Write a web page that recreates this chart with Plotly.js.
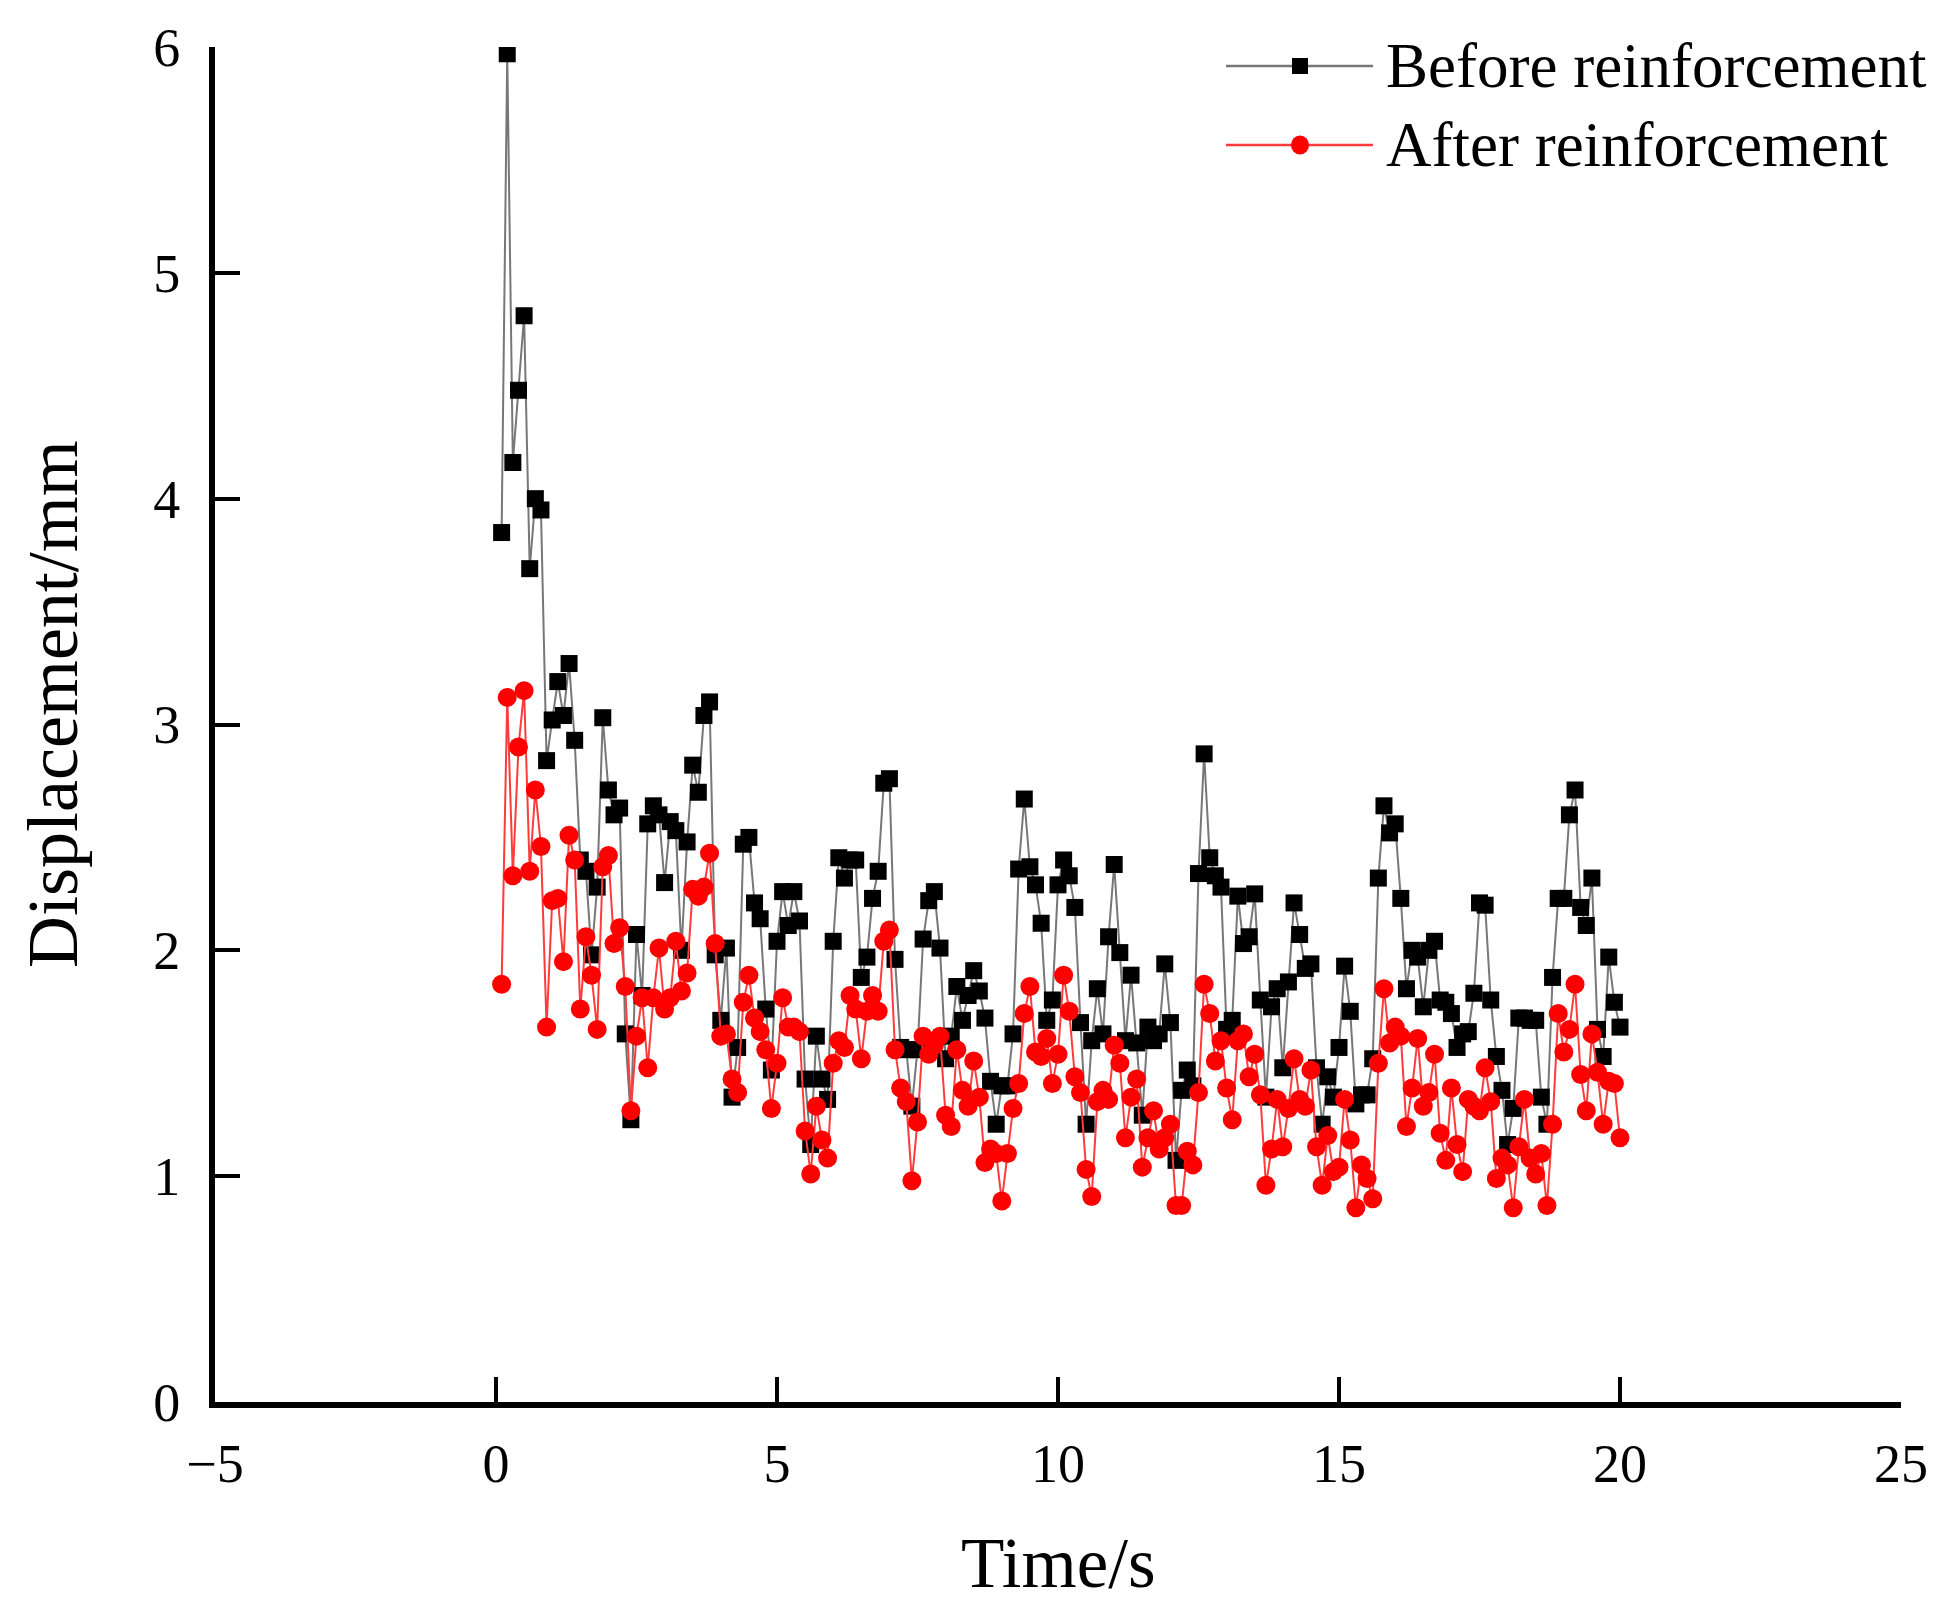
<!DOCTYPE html>
<html>
<head>
<meta charset="utf-8">
<script src="https://cdn.plot.ly/plotly-3.0.1.min.js"></script>
<style>
  html, body { margin: 0; padding: 0; background: #fff; }
  #chart { width: 1948px; height: 1612px; }
</style>
</head>
<body>
<div id="chart"></div>
<script>
// sampling times (s)
const time = [
  0.1, 0.2, 0.3, 0.4, 0.5, 0.6, 0.7, 0.8, 0.9, 1.0, 1.1, 1.2, 1.3, 1.4, 1.5, 1.6, 1.7, 1.8, 1.9, 2.0,
  2.1, 2.2, 2.3, 2.4, 2.5, 2.6, 2.7, 2.8, 2.9, 3.0, 3.1, 3.2, 3.3, 3.4, 3.5, 3.6, 3.7, 3.8, 3.9, 4.0,
  4.1, 4.2, 4.3, 4.4, 4.5, 4.6, 4.7, 4.8, 4.9, 5.0, 5.1, 5.2, 5.3, 5.4, 5.5, 5.6, 5.7, 5.8, 5.9, 6.0,
  6.1, 6.2, 6.3, 6.4, 6.5, 6.6, 6.7, 6.8, 6.9, 7.0, 7.1, 7.2, 7.3, 7.4, 7.5, 7.6, 7.7, 7.8, 7.9, 8.0,
  8.1, 8.2, 8.3, 8.4, 8.5, 8.6, 8.7, 8.8, 8.9, 9.0, 9.1, 9.2, 9.3, 9.4, 9.5, 9.6, 9.7, 9.8, 9.9, 10.0,
  10.1, 10.2, 10.3, 10.4, 10.5, 10.6, 10.7, 10.8, 10.9, 11.0, 11.1, 11.2, 11.3, 11.4, 11.5, 11.6, 11.7, 11.8, 11.9, 12.0,
  12.1, 12.2, 12.3, 12.4, 12.5, 12.6, 12.7, 12.8, 12.9, 13.0, 13.1, 13.2, 13.3, 13.4, 13.5, 13.6, 13.7, 13.8, 13.9, 14.0,
  14.1, 14.2, 14.3, 14.4, 14.5, 14.6, 14.7, 14.8, 14.9, 15.0, 15.1, 15.2, 15.3, 15.4, 15.5, 15.6, 15.7, 15.8, 15.9, 16.0,
  16.1, 16.2, 16.3, 16.4, 16.5, 16.6, 16.7, 16.8, 16.9, 17.0, 17.1, 17.2, 17.3, 17.4, 17.5, 17.6, 17.7, 17.8, 17.9, 18.0,
  18.1, 18.2, 18.3, 18.4, 18.5, 18.6, 18.7, 18.8, 18.9, 19.0, 19.1, 19.2, 19.3, 19.4, 19.5, 19.6, 19.7, 19.8, 19.9, 20.0
];

// displacement before reinforcement (mm)
const before = [
  3.85, 5.97, 4.16, 4.48, 4.81, 3.69, 4.00, 3.95, 2.84, 3.02, 3.19, 3.04, 3.27, 2.93, 2.40, 2.35, 1.98, 2.28, 3.03, 2.71,
  2.60, 2.63, 1.63, 1.25, 2.07, 1.80, 2.56, 2.64, 2.60, 2.30, 2.57, 2.53, 2.00, 2.48, 2.82, 2.70, 3.04, 3.10, 1.98, 1.69,
  2.01, 1.35, 1.57, 2.47, 2.50, 2.21, 2.14, 1.74, 1.47, 2.04, 2.26, 2.11, 2.26, 2.13, 1.43, 1.14, 1.62, 1.43, 1.34, 2.04,
  2.41, 2.32, 2.40, 2.40, 1.88, 1.97, 2.23, 2.35, 2.74, 2.76, 1.96, 1.57, 1.56, 1.31, 1.56, 2.05, 2.22, 2.26, 2.01, 1.52,
  1.62, 1.84, 1.69, 1.80, 1.91, 1.82, 1.70, 1.42, 1.23, 1.40, 1.40, 1.63, 2.36, 2.67, 2.37, 2.29, 2.12, 1.69, 1.78, 2.29,
  2.40, 2.33, 2.19, 1.68, 1.23, 1.60, 1.83, 1.63, 2.06, 2.38, 1.99, 1.60, 1.89, 1.59, 1.27, 1.66, 1.60, 1.63, 1.94, 1.68,
  1.07, 1.38, 1.47, 1.40, 2.34, 2.87, 2.41, 2.33, 2.28, 1.65, 1.69, 2.24, 2.03, 2.06, 2.25, 1.78, 1.35, 1.75, 1.83, 1.48,
  1.86, 2.21, 2.07, 1.92, 1.94, 1.48, 1.23, 1.44, 1.35, 1.57, 1.93, 1.73, 1.32, 1.36, 1.36, 1.52, 2.32, 2.64, 2.52, 2.56,
  2.23, 1.83, 2.00, 1.97, 1.75, 2.00, 2.04, 1.78, 1.77, 1.72, 1.57, 1.63, 1.64, 1.81, 2.21, 2.20, 1.78, 1.53, 1.38, 1.14,
  1.30, 1.70, 1.70, 1.69, 1.69, 1.35, 1.23, 1.88, 2.23, 2.23, 2.60, 2.71, 2.19, 2.11, 2.32, 1.65, 1.53, 1.97, 1.77, 1.66
];

// displacement after reinforcement (mm)
const after = [
  1.85, 3.12, 2.33, 2.90, 3.15, 2.35, 2.71, 2.46, 1.66, 2.22, 2.23, 1.95, 2.51, 2.40, 1.74, 2.06, 1.89, 1.65, 2.37, 2.42,
  2.03, 2.10, 1.84, 1.29, 1.62, 1.79, 1.48, 1.79, 2.01, 1.74, 1.79, 2.04, 1.82, 1.90, 2.27, 2.24, 2.28, 2.43, 2.03, 1.62,
  1.63, 1.43, 1.37, 1.77, 1.89, 1.70, 1.64, 1.56, 1.30, 1.50, 1.79, 1.66, 1.66, 1.64, 1.20, 1.01, 1.31, 1.16, 1.08, 1.50,
  1.60, 1.57, 1.80, 1.74, 1.52, 1.73, 1.80, 1.73, 2.04, 2.09, 1.56, 1.39, 1.33, 0.98, 1.24, 1.62, 1.54, 1.58, 1.62, 1.27,
  1.22, 1.56, 1.38, 1.31, 1.51, 1.35, 1.06, 1.12, 1.10, 0.89, 1.10, 1.30, 1.41, 1.72, 1.84, 1.55, 1.53, 1.61, 1.41, 1.54,
  1.89, 1.73, 1.44, 1.37, 1.03, 0.91, 1.33, 1.38, 1.34, 1.58, 1.50, 1.17, 1.35, 1.43, 1.04, 1.17, 1.29, 1.12, 1.17, 1.23,
  0.87, 0.87, 1.11, 1.05, 1.37, 1.85, 1.72, 1.51, 1.60, 1.39, 1.25, 1.60, 1.63, 1.44, 1.54, 1.36, 0.96, 1.12, 1.34, 1.13,
  1.30, 1.52, 1.34, 1.31, 1.47, 1.13, 0.96, 1.18, 1.02, 1.04, 1.34, 1.16, 0.86, 1.05, 0.99, 0.90, 1.50, 1.83, 1.59, 1.66,
  1.62, 1.22, 1.39, 1.61, 1.31, 1.37, 1.54, 1.19, 1.07, 1.39, 1.14, 1.02, 1.34, 1.31, 1.29, 1.48, 1.33, 0.99, 1.08, 1.05,
  0.86, 1.13, 1.34, 1.08, 1.01, 1.10, 0.87, 1.23, 1.72, 1.55, 1.65, 1.85, 1.45, 1.29, 1.63, 1.46, 1.23, 1.42, 1.41, 1.17
];

const seriesNames = ['Before reinforcement', 'After reinforcement'];
const xTicks = [-5, 0, 5, 10, 15, 20, 25];
const yTicks = [0, 1, 2, 3, 4, 5, 6];

const FONT = 'Liberation Serif, Times New Roman, serif';
const W = 1948, H = 1612;
const M = {l: 215, r: 47, t: 47, b: 210};
const PW = W - M.l - M.r, PH = H - M.t - M.b;
// page pixel -> paper coords (legend + titles only)
const px = x => (x - M.l) / PW;
const py = y => (H - M.b - y) / PH;

const traces = [
  {type: 'scatter', mode: 'lines+markers', name: seriesNames[0], x: time, y: before,
   line: {color: '#777777', width: 2}, marker: {symbol: 'square', size: 17, color: '#000'}},
  {type: 'scatter', mode: 'lines+markers', name: seriesNames[1], x: time, y: after,
   line: {color: '#ff3b3b', width: 2}, marker: {symbol: 'circle', size: 19, color: '#ff0000'}}
];

// hand-built legend (long sample lines like the original)
const legRows = [{y: 66, line: '#777777', fill: '#000', kind: 'rect', hw: 8, hh: 8},
                 {y: 145, line: '#ff3b3b', fill: '#ff0000', kind: 'circle', hw: 9, hh: 9.5}];
const shapes = [], annotations = [];
legRows.forEach((r, i) => {
  shapes.push({type: 'line', xref: 'paper', yref: 'paper', x0: px(1226), x1: px(1373), y0: py(r.y), y1: py(r.y),
               line: {color: r.line, width: 2.5}});
  shapes.push({type: r.kind, xref: 'paper', yref: 'paper', x0: px(1300 - r.hw), x1: px(1300 + r.hw),
               y0: py(r.y + r.hh), y1: py(r.y - r.hh), fillcolor: r.fill, line: {width: 0}});
  annotations.push({xref: 'paper', yref: 'paper', x: px(1384), y: py(r.y), xanchor: 'left', yanchor: 'middle',
                    text: seriesNames[i], showarrow: false, font: {family: FONT, size: 63, color: '#000'}});
});

// axis titles placed as in the original
annotations.push({xref: 'paper', yref: 'paper', x: 0.5, y: py(1563), xanchor: 'center', yanchor: 'middle',
                  text: 'Time/s', showarrow: false, font: {family: FONT, size: 71, color: '#000'}});
annotations.push({xref: 'paper', yref: 'paper', x: px(53), y: py(704), xanchor: 'center', yanchor: 'middle',
                  textangle: -90, text: 'Displacement/mm', showarrow: false,
                  font: {family: FONT, size: 72, color: '#000'}});

const axisBase = {showline: true, linecolor: '#000', linewidth: 6, ticks: 'inside', tickcolor: '#000', tickwidth: 4,
                  ticklen: 25, showgrid: false, zeroline: false, tickfont: {family: FONT, size: 54, color: '#000'}};

const layout = {
  width: W, height: H, margin: M, paper_bgcolor: '#fff', plot_bgcolor: '#fff', showlegend: false,
  font: {family: FONT, color: '#000'},
  xaxis: Object.assign({}, axisBase, {range: [-5, 25], tickvals: xTicks, ticklabelstandoff: 9}),
  yaxis: Object.assign({}, axisBase, {range: [0, 6], tickvals: yTicks, ticklabelstandoff: 18}),
  shapes: shapes, annotations: annotations
};

Plotly.newPlot('chart', traces, layout, {displayModeBar: false, staticPlot: true});
</script>
</body>
</html>
